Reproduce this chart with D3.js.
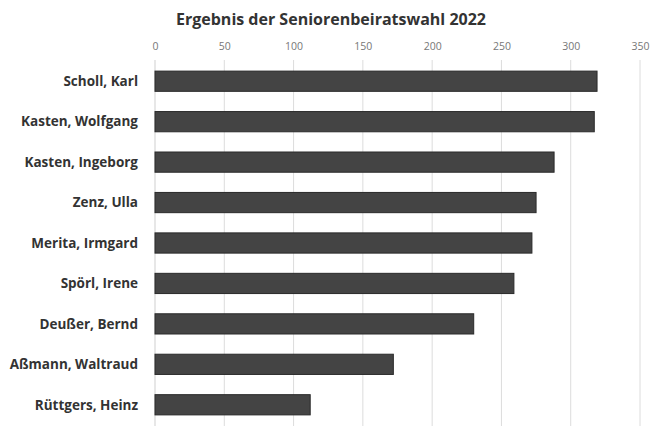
<!DOCTYPE html>
<html><head><meta charset="utf-8">
<script src="https://cdn.jsdelivr.net/npm/d3@7"></script>
<style>body{margin:0;background:#fff}</style>
</head><body>
<svg id="c" width="659" height="428"></svg>
<script>
const names = ["Scholl, Karl","Kasten, Wolfgang","Kasten, Ingeborg","Zenz, Ulla","Merita, Irmgard","Spörl, Irene","Deußer, Bernd","Aßmann, Waltraud","Rüttgers, Heinz"];
const votes = [319,317,288,275,272,259,230,172,112];
const ticks = [0,50,100,150,200,250,300,350];
const title = "Ergebnis der Seniorenbeiratswahl 2022";

const svg = d3.select("#c");
const m = {l:155, r:19, t:60, b:2};
const W = 659, H = 428;
const x = d3.scaleLinear().domain([0,350]).range([m.l, W-m.r]);
const y = d3.scaleBand().domain(names).range([m.t+1, H-m.b-1]).paddingInner(0.5).paddingOuter(0.25);

svg.append("text").attr("x",331).attr("y",25).attr("text-anchor","middle")
  .attr("font-family","Open Sans, sans-serif").attr("font-weight","bold").attr("font-size",16)
  .attr("fill","#333").text(title);

svg.append("g").selectAll("line").data(ticks).join("line")
  .attr("x1",d=>x(d)).attr("x2",d=>x(d)).attr("y1",m.t).attr("y2",H-m.b)
  .attr("stroke",d=>d===0?"#cfcfcf":"#dcdcdc").attr("stroke-width",1);

const ax = svg.append("g").attr("transform",`translate(0,${m.t})`)
  .call(d3.axisTop(x).tickValues(ticks).tickSize(0).tickPadding(10));
ax.select(".domain").remove();
ax.selectAll("text").attr("font-family","Open Sans, sans-serif").attr("font-size",10.5).attr("fill","#777");

svg.append("g").selectAll("rect").data(names).join("rect")
  .attr("x",x(0)).attr("y",d=>y(d)).attr("height",y.bandwidth())
  .attr("width",(d,i)=>x(votes[i])-x(0))
  .attr("fill","#444").attr("stroke","#2a2a2a").attr("stroke-width",1);

svg.append("g").selectAll("text").data(names).join("text")
  .attr("x",138).attr("y",d=>y(d)+y.bandwidth()/2).attr("dy","0.35em")
  .attr("text-anchor","end").attr("font-family","Open Sans, sans-serif")
  .attr("font-weight","bold").attr("font-size",13.5).attr("fill","#333").text(d=>d);
</script>
</body></html>
